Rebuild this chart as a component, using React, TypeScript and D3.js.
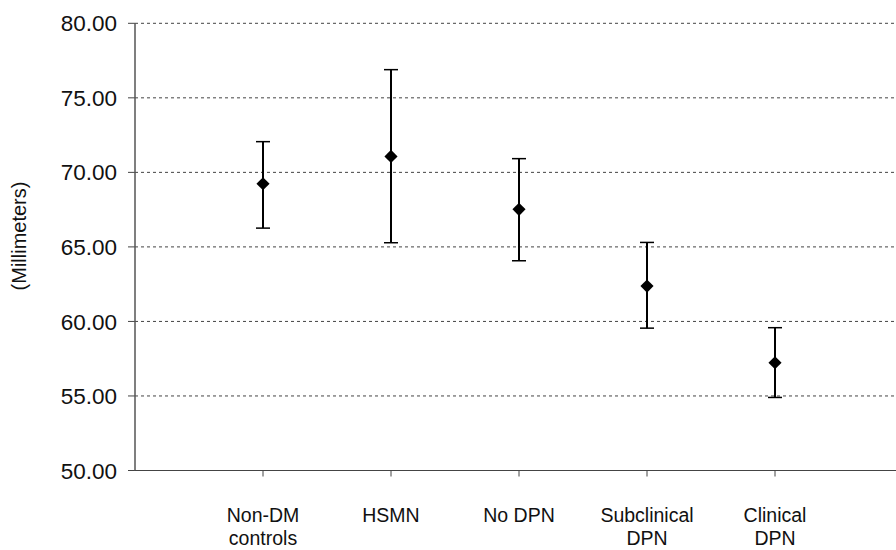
import React from "react";
import * as d3 from "d3";

const categories: string[][] = [
  ["Non-DM", "controls"],
  ["HSMN"],
  ["No DPN"],
  ["Subclinical", "DPN"],
  ["Clinical", "DPN"],
];
const means = [69.24, 71.07, 67.52, 62.37, 57.23];
const upper = [72.06, 76.89, 70.92, 65.3, 59.58];
const lower = [66.26, 65.28, 64.07, 59.55, 54.9];
const yTicks = [50, 55, 60, 65, 70, 75, 80];

export default function App() {
  const W = 896, H = 550;
  const left = 135, top = 23.3, bottom = 470.5;
  const x = d3.scaleLinear().domain([-1, 5]).range([left, left + 128 * 6]);
  const y = d3.scaleLinear().domain([50, 80]).range([bottom, top]);
  const font = "Arial, 'Liberation Sans', sans-serif";
  const diamond = d3.symbol().type(d3.symbolDiamond2 ?? d3.symbolDiamond).size(110)();
  return (
    <svg width={W} height={H} style={{ position: "absolute", left: 0, top: 0, background: "#fff" }}>
      {yTicks.map((t) => (
        <g key={t}>
          {t !== 50 && (
            <line x1={left} x2={W} y1={y(t)} y2={y(t)} stroke="#444" strokeWidth={1} strokeDasharray="3,3" />
          )}
          <line x1={left - 7} x2={left} y1={y(t)} y2={y(t)} stroke="#444" strokeWidth={1} />
          <text x={117} y={y(t)} dy="0.36em" textAnchor="end" fontFamily={font} fontSize={22.5} fill="#111">
            {t.toFixed(2)}
          </text>
        </g>
      ))}
      <line x1={left} x2={left} y1={top} y2={bottom} stroke="#555" strokeWidth={1.5} />
      <line x1={left} x2={W} y1={bottom} y2={bottom} stroke="#444" strokeWidth={1.2} />
      {categories.map((c, i) => (
        <g key={i}>
          <line x1={x(i)} x2={x(i)} y1={bottom} y2={bottom + 6} stroke="#444" strokeWidth={1} />
          {c.map((s, j) => (
            <text key={j} x={x(i)} y={522 + j * 23} textAnchor="middle" fontFamily={font} fontSize={19.5} fill="#111">
              {s}
            </text>
          ))}
        </g>
      ))}
      {means.map((m, i) => (
        <g key={i}>
          <line x1={x(i)} x2={x(i)} y1={y(upper[i])} y2={y(lower[i])} stroke="#000" strokeWidth={2} />
          <line x1={x(i) - 7} x2={x(i) + 7} y1={y(upper[i])} y2={y(upper[i])} stroke="#000" strokeWidth={1.5} />
          <line x1={x(i) - 7} x2={x(i) + 7} y1={y(lower[i])} y2={y(lower[i])} stroke="#000" strokeWidth={1.5} />
          <path d={diamond as string} transform={`translate(${x(i)},${y(m)})`} fill="#000" />
        </g>
      ))}
      <text transform={`translate(19,236) rotate(-90)`} textAnchor="middle" dy="0.35em" fontFamily={font} fontSize={20} fill="#111">
        (Millimeters)
      </text>
    </svg>
  );
}
